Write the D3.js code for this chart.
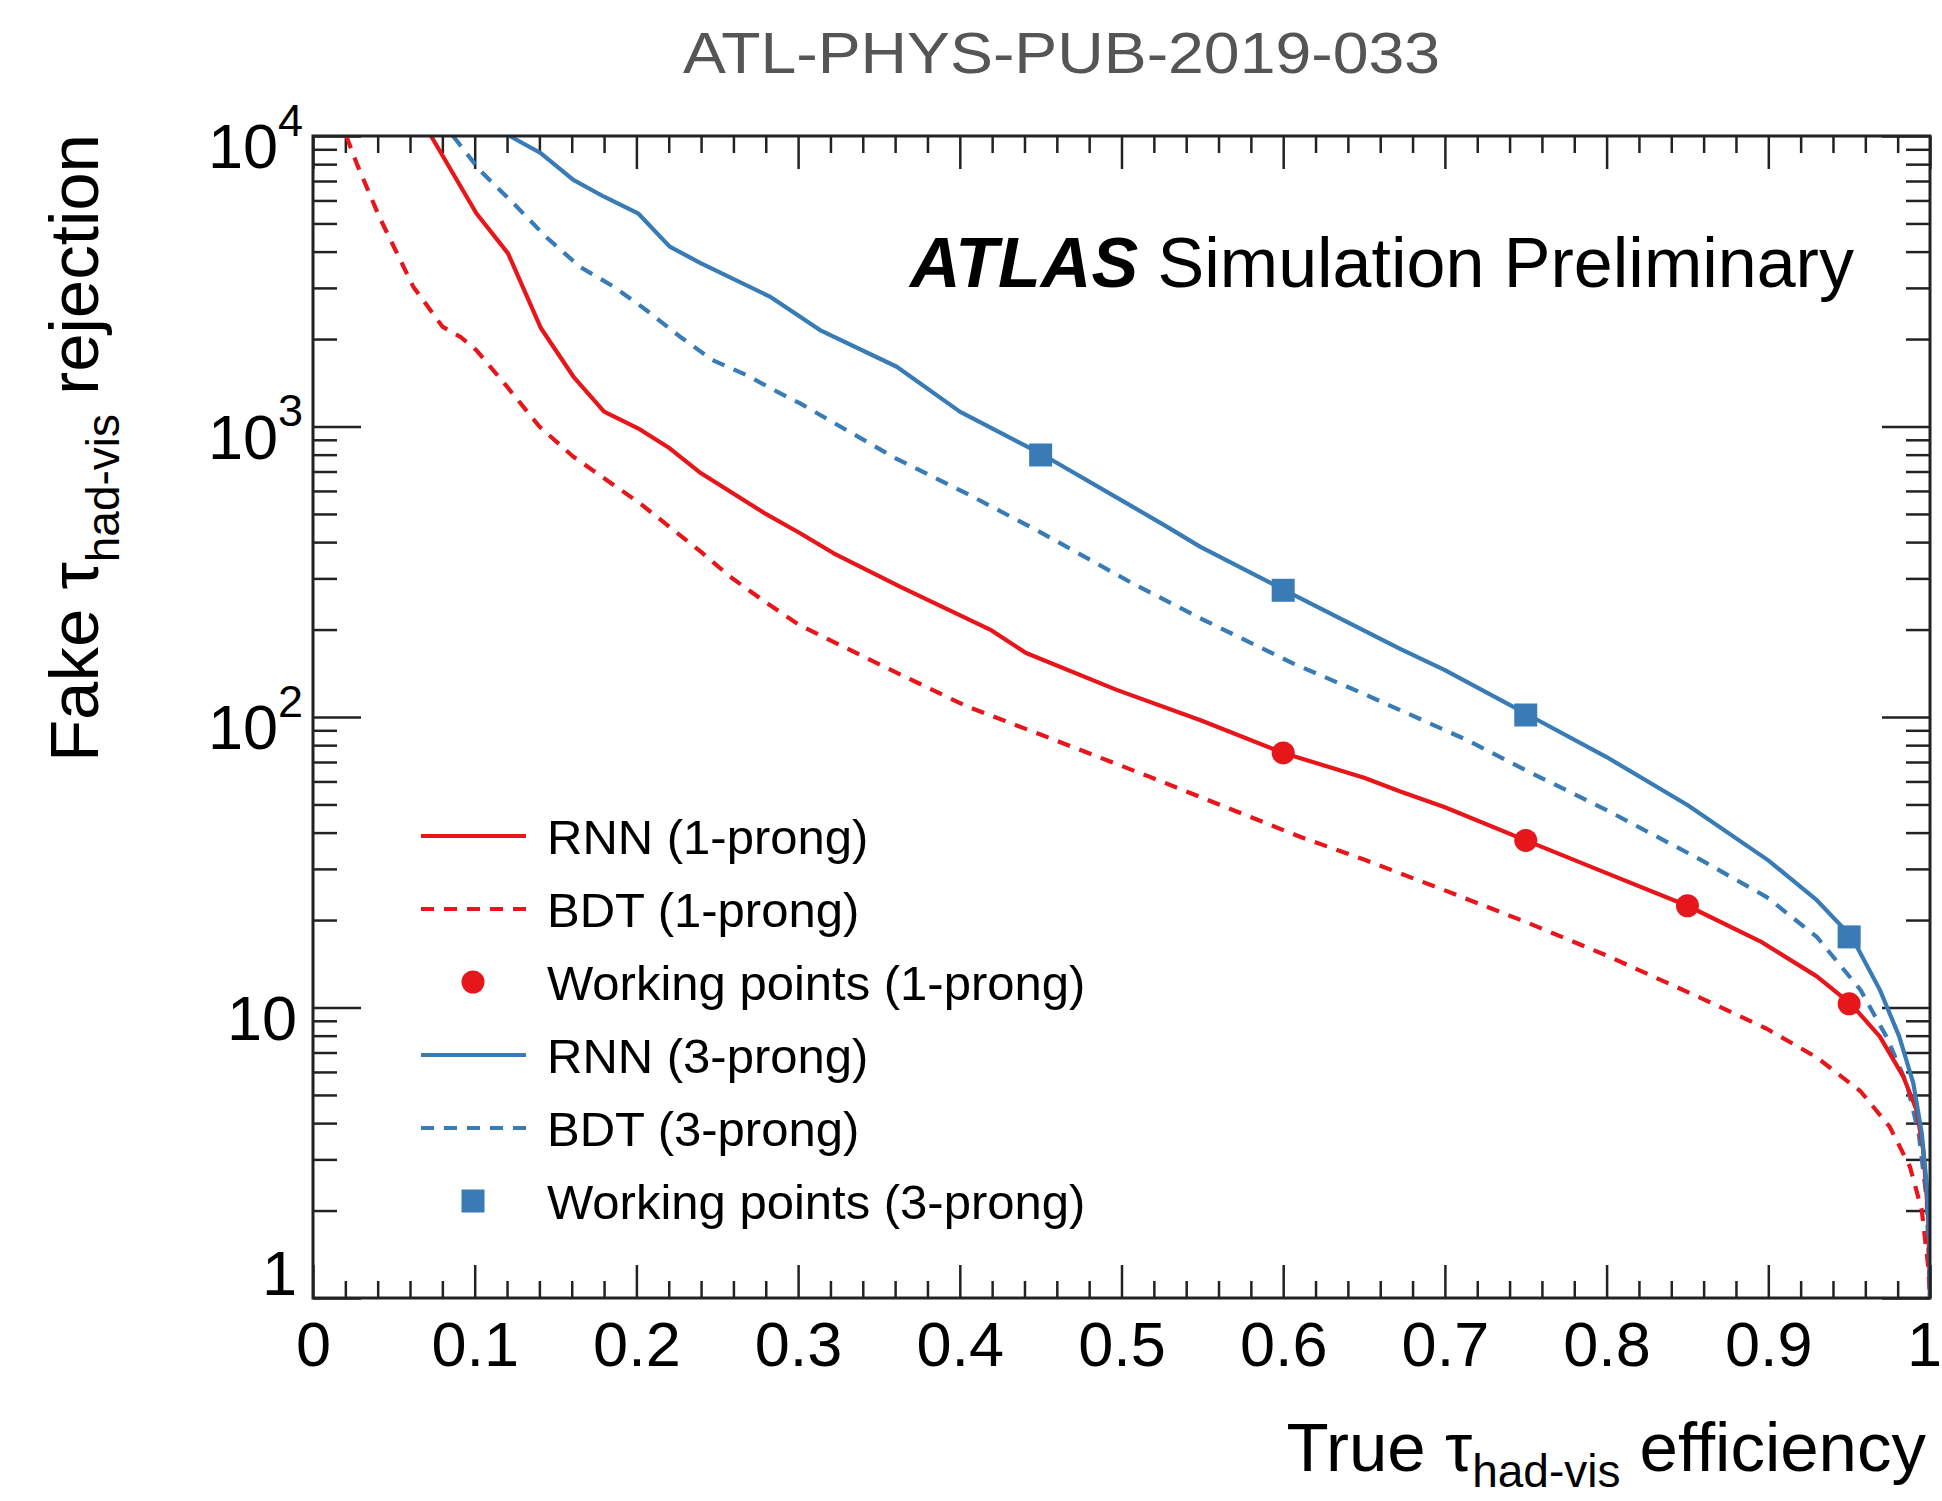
<!DOCTYPE html>
<html>
<head>
<meta charset="utf-8">
<script src="https://cdn.jsdelivr.net/npm/d3@7"></script>
<style>
  body { margin: 0; background: #fff; }
  svg { display: block; font-family: "Liberation Sans", Arial, Helvetica, sans-serif; }
</style>
</head>
<body>
<div id="chart"></div>
<script>
// efficiency / rejection curves
const effRnn1 = [0.073, 0.101, 0.1206, 0.141, 0.161, 0.180, 0.201, 0.2206, 0.240, 0.28, 0.301, 0.322, 0.363, 0.4187, 0.441, 0.497, 0.5485, 0.60, 0.65, 0.672, 0.70, 0.75, 0.80, 0.85, 0.895, 0.93, 0.951, 0.969, 0.9835, 0.9917, 0.9958, 0.9989, 1.0];
const rejRnn1 = [10000, 5420, 3945, 2178, 1486, 1125, 986, 841, 690, 500, 430, 366, 281, 200, 166, 124, 97.6, 75.2, 61.8, 55.5, 48.9, 37.6, 29.0, 22.4, 16.9, 12.8, 10.3, 7.94, 5.78, 4.44, 3.23, 1.9, 1];

const effBdt1 = [0.0206, 0.027, 0.041, 0.062, 0.080, 0.091, 0.101, 0.12, 0.140, 0.161, 0.202, 0.24, 0.258, 0.28, 0.301, 0.35, 0.404, 0.45, 0.5176, 0.55, 0.6104, 0.65, 0.70, 0.75, 0.80, 0.858, 0.899, 0.930, 0.957, 0.975, 0.9876, 0.9949, 0.9989, 1.0];
const rejBdt1 = [10000, 8050, 5270, 3030, 2208, 2037, 1833, 1371, 1000, 787, 545, 370, 304, 248, 207, 152, 109, 87, 62.2, 52.7, 38.7, 32.3, 25.3, 19.7, 15.1, 10.8, 8.45, 6.73, 5.15, 3.89, 2.83, 2.01, 1.28, 1];

const effRnn3 = [0.1216, 0.141, 0.161, 0.180, 0.201, 0.2206, 0.240, 0.2825, 0.3135, 0.361, 0.400, 0.4516, 0.503, 0.528, 0.5485, 0.601, 0.672, 0.70, 0.7516, 0.80, 0.85, 0.90, 0.93, 0.9516, 0.969, 0.981, 0.9897, 0.9949, 0.9979, 1.0, 1.0];
const rejRnn3 = [10000, 8720, 7060, 6180, 5420, 4160, 3645, 2800, 2148, 1606, 1125, 798, 545, 452, 386, 273, 172, 145, 101.6, 72.8, 49.8, 32.1, 23.4, 17.5, 11.5, 7.94, 5.48, 3.69, 2.48, 1.46, 1];

const effBdt3 = [0.0866, 0.103, 0.124, 0.144, 0.165, 0.186, 0.206, 0.227, 0.247, 0.268, 0.289, 0.301, 0.36, 0.404, 0.45, 0.507, 0.55, 0.606, 0.65, 0.7135, 0.75, 0.80, 0.858, 0.899, 0.930, 0.957, 0.973, 0.9856, 0.993, 0.998, 1.0];
const rejBdt3 = [10000, 7640, 5860, 4500, 3547, 3028, 2518, 2038, 1694, 1504, 1300, 1203, 779, 589, 432, 288, 217, 153, 120, 83.4, 65.6, 47.8, 32.3, 24.0, 17.5, 11.5, 7.94, 5.48, 3.69, 2.17, 1];

// working points
const wpEff1 = [0.60, 0.75, 0.85, 0.95];
const wpRej1 = [75.2, 37.6, 22.4, 10.3];
const wpEff3 = [0.45, 0.60, 0.75, 0.95];
const wpRej3 = [798, 273, 101.6, 17.5];

const xMajor = [0, 0.1, 0.2, 0.3, 0.4, 0.5, 0.6, 0.7, 0.8, 0.9, 1];
const yMajor = [1, 10, 100, 1000, 10000];
const yLabels = [["1", ""], ["10", ""], ["10", "2"], ["10", "3"], ["10", "4"]];

const legendLabels = ["RNN (1-prong)", "BDT (1-prong)", "Working points (1-prong)", "RNN (3-prong)", "BDT (3-prong)", "Working points (3-prong)"];

const RED = "#e6161b";
const BLUE = "#387bb5";
const DASH = "13,10";

const W = 1942, H = 1501;
const margin = {top: 136, right: 12, bottom: 203, left: 313};
const width = W - margin.left - margin.right;
const height = H - margin.top - margin.bottom;

const svg = d3.select("#chart").append("svg")
    .attr("width", W)
    .attr("height", H);

// page title
svg.append("text")
    .attr("x", 683)
    .attr("y", 73)
    .attr("fill", "#555")
    .attr("textLength", 757)
    .attr("lengthAdjust", "spacingAndGlyphs")
    .style("font-size", "58px")
    .text("ATL-PHYS-PUB-2019-033");

const g = svg.append("g")
    .attr("transform", "translate(" + margin.left + "," + margin.top + ")");

const x = d3.scaleLinear().domain([0, 1]).range([0, width]);
const y = d3.scaleLog().domain([1, 10000]).range([height, 0]);

g.append("clipPath").attr("id", "plotClip")
    .append("rect").attr("width", width).attr("height", height);

// minor ticks
const xMinor = d3.range(0, 1.0001, 0.02).filter(v => Math.abs(v * 10 - Math.round(v * 10)) > 1e-6);
const yMinor = [];
[1, 10, 100, 1000].forEach(d => { for (let k = 2; k <= 9; k++) yMinor.push(d * k); });

function drawTicks(axis, cls, transform) {
    g.append("g").attr("class", cls).attr("transform", transform).call(axis)
        .call(s => s.select(".domain").remove())
        .call(s => s.selectAll(".tick line").attr("stroke", "#222").attr("stroke-width", 2.5));
}

drawTicks(d3.axisBottom(x).tickValues(xMinor).tickSize(-17).tickFormat(""), "x-minor", "translate(0," + height + ")");
drawTicks(d3.axisTop(x).tickValues(xMinor).tickSize(-17).tickFormat(""), "x-minor-top", "translate(0,0)");
drawTicks(d3.axisTop(x).tickValues(xMajor).tickSize(-33).tickFormat(""), "x-major-top", "translate(0,0)");
drawTicks(d3.axisLeft(y).tickValues(yMinor).tickSize(-24).tickFormat(""), "y-minor", "translate(0,0)");
drawTicks(d3.axisRight(y).tickValues(yMinor).tickSize(-24).tickFormat(""), "y-minor-right", "translate(" + width + ",0)");
drawTicks(d3.axisRight(y).tickValues(yMajor).tickSize(-48).tickFormat(""), "y-major-right", "translate(" + width + ",0)");

// bottom axis with labels
g.append("g").attr("class", "x-axis").attr("transform", "translate(0," + height + ")")
    .call(d3.axisBottom(x).tickValues(xMajor).tickSize(-33)
        .tickFormat(d => d === 0 || d === 1 ? d3.format("d")(d) : d3.format(".1f")(d)))
    .call(s => s.select(".domain").remove())
    .call(s => s.selectAll(".tick line").attr("stroke", "#222").attr("stroke-width", 2.5))
    .call(s => s.selectAll(".tick text").attr("fill", "#000").style("font-size", "63px")
        .attr("y", 20).attr("dy", "0.76em")
        .attr("dx", d => d === 1 ? -6 : 0));

// left axis with 10^n labels
g.append("g").attr("class", "y-axis")
    .call(d3.axisLeft(y).tickValues(yMajor).tickSize(-48).tickFormat(""))
    .call(s => s.select(".domain").remove())
    .call(s => s.selectAll(".tick line").attr("stroke", "#222").attr("stroke-width", 2.5))
    .call(s => s.selectAll(".tick text").each(function(d, i) {
        const t = d3.select(this)
            .attr("fill", "#000")
            .style("font-size", "63px")
            .attr("dy", i === 0 ? "-0.06em" : "0.5em")
            .attr("x", yLabels[i][1] ? -10 : -16);
        t.append("tspan").text(yLabels[i][0]);
        if (yLabels[i][1]) {
            t.append("tspan").attr("dy", "-0.72em").style("font-size", "45px").text(yLabels[i][1]);
        }
    }));

// curves
const line = d3.line()
    .x(d => x(d[0]))
    .y(d => y(d[1]));

const curves = [
    {eff: effBdt1, rej: rejBdt1, color: RED, dash: DASH},
    {eff: effBdt3, rej: rejBdt3, color: BLUE, dash: DASH},
    {eff: effRnn1, rej: rejRnn1, color: RED, dash: null},
    {eff: effRnn3, rej: rejRnn3, color: BLUE, dash: null}
];

const plot = g.append("g").attr("clip-path", "url(#plotClip)");
plot.selectAll(".curve")
    .data(curves)
    .join("path")
    .attr("class", "curve")
    .attr("fill", "none")
    .attr("stroke", d => d.color)
    .attr("stroke-width", 4.2)
    .attr("stroke-linejoin", "round")
    .attr("stroke-dasharray", d => d.dash)
    .attr("d", d => line(d.eff.map((e, i) => [e, d.rej[i]])));

// working points
g.selectAll(".wp1")
    .data(wpEff1.map((e, i) => [e, wpRej1[i]]))
    .join("circle")
    .attr("class", "wp1")
    .attr("cx", d => x(d[0]))
    .attr("cy", d => y(d[1]))
    .attr("r", 11.5)
    .attr("fill", RED);

g.selectAll(".wp3")
    .data(wpEff3.map((e, i) => [e, wpRej3[i]]))
    .join("rect")
    .attr("class", "wp3")
    .attr("x", d => x(d[0]) - 11.5)
    .attr("y", d => y(d[1]) - 11.5)
    .attr("width", 23)
    .attr("height", 23)
    .attr("fill", BLUE);

// frame
g.append("rect")
    .attr("width", width)
    .attr("height", height)
    .attr("fill", "none")
    .attr("stroke", "#222")
    .attr("stroke-width", 3);

// ATLAS label
const atlas = g.append("text")
    .attr("x", 910 - margin.left)
    .attr("y", 287 - margin.top)
    .style("font-size", "70px");
atlas.append("tspan").style("font-weight", "bold").style("font-style", "italic").text("ATLAS");
atlas.append("tspan").text(" Simulation Preliminary");

// legend
const legend = g.append("g").attr("transform", "translate(" + (421 - margin.left) + "," + (836 - margin.top) + ")");
const rowH = 73;
const legendRows = legend.selectAll(".legend-row")
    .data(legendLabels)
    .join("g")
    .attr("class", "legend-row")
    .attr("transform", (d, i) => "translate(0," + i * rowH + ")");

legendRows.append("text")
    .attr("x", 126)
    .attr("dy", "0.36em")
    .style("font-size", "49px")
    .text(d => d);

legendRows.each(function(d, i) {
    const row = d3.select(this);
    const color = i < 3 ? RED : BLUE;
    if (i % 3 === 0 || i % 3 === 1) {
        row.append("line")
            .attr("x1", 0).attr("x2", 105)
            .attr("stroke", color)
            .attr("stroke-width", 4.2)
            .attr("stroke-dasharray", i % 3 === 1 ? DASH : null);
    } else if (i === 2) {
        row.append("circle").attr("cx", 52).attr("r", 11.5).attr("fill", color);
    } else {
        row.append("rect").attr("x", 40.5).attr("y", -11.5).attr("width", 23).attr("height", 23).attr("fill", color);
    }
});

// axis titles
const xTitle = svg.append("text")
    .attr("x", 1926)
    .attr("y", 1471)
    .attr("text-anchor", "end")
    .style("font-size", "69px");
xTitle.append("tspan").text("True τ");
xTitle.append("tspan").attr("dy", "0.34em").style("font-size", "46px").text("had-vis");
xTitle.append("tspan").attr("dy", "-0.23em").text(" efficiency");

const yTitle = svg.append("text")
    .attr("transform", "translate(98,134) rotate(-90)")
    .attr("text-anchor", "end")
    .style("font-size", "69px");
yTitle.append("tspan").text("Fake τ");
yTitle.append("tspan").attr("dy", "0.45em").style("font-size", "46px").text("had-vis");
yTitle.append("tspan").attr("dy", "-0.3em").text(" rejection");
</script>
</body>
</html>
